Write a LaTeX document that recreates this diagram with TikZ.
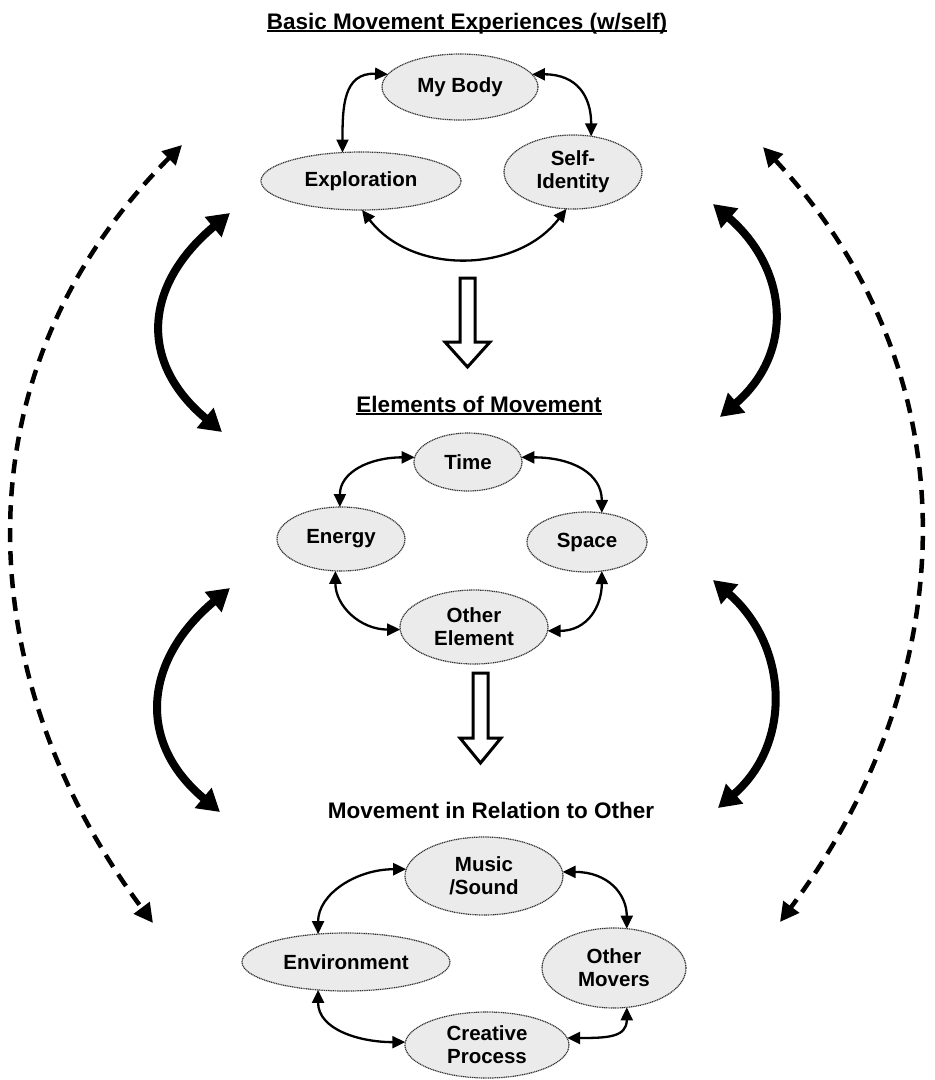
\documentclass[tikz,border=0pt]{standalone}
\usepackage{fontspec}
\setmainfont{Liberation Sans}
\usetikzlibrary{arrows.meta,shapes.geometric}
\newcommand\myul[1]{\setbox0=\hbox{#1}\rlap{\rule[-3pt]{\wd0}{1.6pt}}\box0}
\tikzset{
  oval/.style={ellipse, draw=black!80, line width=1.2pt, dash pattern=on 1.1pt off 0.7pt,
    fill=black!8, inner sep=0pt, outer sep=0pt, align=center,
    font=\fontsize{20.5pt}{23pt}\selectfont\bfseries},
  heading/.style={anchor=base, inner sep=0pt, font=\fontsize{22.5pt}{26pt}\selectfont\bfseries},
  thin arrow/.style={line width=2.3pt, {Triangle[length=13pt,width=12pt]}-{Triangle[length=13pt,width=12pt]}},
  thick arrow/.style={line width=8pt, {Triangle[length=22pt,width=25pt]}-{Triangle[length=22pt,width=25pt]}},
  dash arrow/.style={line width=4.5pt, dash pattern=on 14pt off 9pt, {Triangle[length=19pt,width=19pt]}-{Triangle[length=19pt,width=19pt]}},
  hollow/.style={line width=3pt, fill=white, line join=miter}
}
\begin{document}
\begin{tikzpicture}[x=1pt,y=-1pt]
\useasboundingbox (0,0) rectangle (935,1080);
\fill[white] (0,0) rectangle (935,1080);

% headings
\node[heading] (h1) at (467,29) {\myul{Basic Movement Experiences (w/self)}};
\node[heading] (h2) at (479,412) {\myul{Elements of Movement}};
\node[heading] (h3) at (491,818) {Movement in Relation to Other};

% top group
\node[oval, minimum width=156pt, minimum height=66pt] (mybody) at (460,87) {My Body};
\node[oval, minimum width=200pt, minimum height=58pt] (explo) at (361,181) {Exploration};
\node[oval, minimum width=138pt, minimum height=74pt] (selfid) at (573,172) {Self-\\Identity};

\draw[thin arrow] (mybody.170) .. controls +(-45,-2) and +(0,-45) .. (explo.123);
\draw[thin arrow] (mybody.10) .. controls +(45,0) and +(0,-40) .. (selfid.63);
\draw[thin arrow] (explo.-88) .. controls +(50,65) and +(-50,65) .. (selfid.-100);

% middle group
\node[oval, minimum width=108pt, minimum height=58pt] (time) at (468,462) {Time};
\node[oval, minimum width=128pt, minimum height=64pt] (energy) at (341,539) {Energy};
\node[oval, minimum width=120pt, minimum height=60pt] (space) at (587,542) {Space};
\node[oval, minimum width=148pt, minimum height=74pt] (other) at (474,627) {Other\\Element};

\draw[thin arrow] (time.175) .. controls +(-45,0) and +(0,-35) .. (energy.92);
\draw[thin arrow] (time.5) .. controls +(50,0) and +(0,-40) .. (space.63);
\draw[thin arrow] (energy.-100) .. controls +(0,35) and +(-40,0) .. (other.182);
\draw[thin arrow] (space.-63) .. controls +(0,35) and +(40,0) .. (other.-3);

% bottom group
\node[oval, minimum width=158pt, minimum height=78pt] (music) at (484,876) {Music\\/Sound};
\node[oval, minimum width=208pt, minimum height=58pt] (envir) at (346,962) {Environment};
\node[oval, minimum width=144pt, minimum height=80pt] (movers) at (614,968) {Other\\Movers};
\node[oval, minimum width=164pt, minimum height=66pt] (creative) at (487,1045) {Creative\\Process};

\draw[thin arrow] (music.175) .. controls +(-50,0) and +(0,-40) .. (envir.135);
\draw[thin arrow] (music.3) .. controls +(45,0) and +(0,-35) .. (movers.72);
\draw[thin arrow] (envir.-135) .. controls +(0,40) and +(-45,0) .. (creative.178);
\draw[thin arrow] (movers.-72) .. controls +(0,30) and +(40,0) .. (creative.5);

% hollow block arrows
\draw[hollow] (460,278) -- (475,278) -- (475,342) -- (490,342) -- (467.5,367) -- (445,342) -- (460,342) -- cycle;
\draw[hollow] (473,673) -- (488,673) -- (488,738) -- (501,738) -- (480.5,763) -- (460,738) -- (473,738) -- cycle;

% thick double arrows
\coordinate (lt1) at (230,213); \coordinate (lt2) at (222,432);
\coordinate (lb1) at (230,588); \coordinate (lb2) at (220,812);
\coordinate (rt1) at (713,204); \coordinate (rt2) at (720,417);
\coordinate (rb1) at (713,580); \coordinate (rb2) at (718,808);
\draw[thick arrow] (lt1) .. controls +(-85,71) and +(-85,-71) .. (lt2);
\draw[thick arrow] (lb1) .. controls +(-85,71) and +(-85,-71) .. (lb2);
\draw[thick arrow] (rt1) .. controls +(75,65) and +(75,-65) .. (rt2);
\draw[thick arrow] (rb1) .. controls +(75,65) and +(75,-65) .. (rb2);

% dashed outer arrows
\coordinate (dl1) at (182,145); \coordinate (dl2) at (153,923);
\coordinate (dr1) at (763,147); \coordinate (dr2) at (780,922);
\draw[dash arrow] (dl1) .. controls +(-231,231) and +(-181,-242) .. (dl2);
\draw[dash arrow] (dr1) .. controls +(215,231) and +(181,-242) .. (dr2);
\end{tikzpicture}
\end{document}
